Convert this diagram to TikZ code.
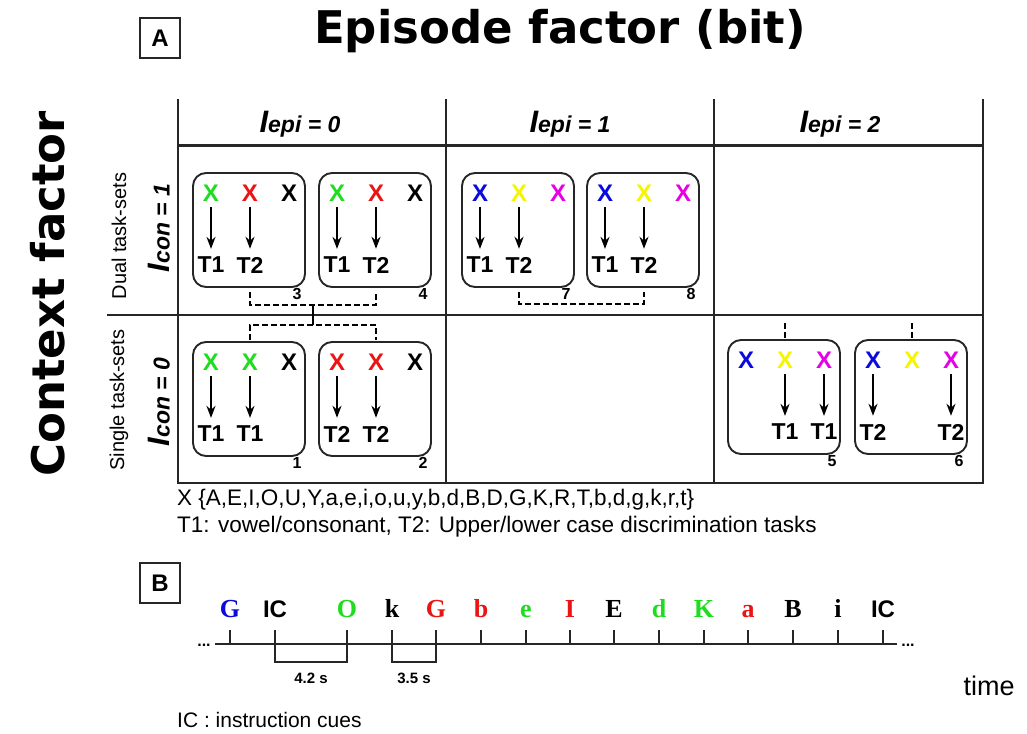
\documentclass[tikz,border=0pt]{standalone}
\usepackage{fontspec}
\setmainfont{Liberation Sans}
\newfontfamily\dejavu{DejaVu Sans}
\newfontfamily\lserif{Liberation Serif}
\usetikzlibrary{arrows.meta}
\definecolor{xgreen}{RGB}{30,220,30}
\definecolor{xred}{RGB}{235,20,20}
\definecolor{xblue}{RGB}{10,10,220}
\definecolor{xyellow}{RGB}{245,245,0}
\definecolor{xmag}{RGB}{230,0,230}
\newcommand\fac[2]{{\bfseries\itshape\fontsize{31}{31}\selectfont I\fontsize{23}{23}\selectfont #1 = #2}}
\newcommand\taskbox[7]{%
  \node[cbox] (#1) at (#2,#3) {};
  \node[xl,text=#4] (#1a) at (#2-38,#3-37) {X};
  \node[xl,text=#5] (#1b) at (#2+1,#3-37) {X};
  \node[xl,text=#6] (#1c) at (#2+40,#3-37) {X};
  \node[num] (#1n) at (#2+48,#3+64) {#7};
}
\newcommand\task[3]{%
  \path (#1#2) ++(0,72) node[tl] (#1t#2) {#3};
  \draw[arr] (#1#2) -- (#1t#2);
}
\tikzset{
  tline/.style={line width=2pt, draw=black!85},
  cbox/.style={draw=black!85, line width=1.9pt, rounded corners=13pt, minimum width=112pt, minimum height=114pt, inner sep=0pt},
  xl/.style={font=\bfseries\fontsize{24}{24}\selectfont, inner sep=0pt},
  tl/.style={font=\bfseries\fontsize{23}{23}\selectfont, inner sep=0pt},
  num/.style={font=\bfseries\fontsize{16}{16}\selectfont, inner sep=0pt},
  arr/.style={-{Stealth[length=12pt,width=9pt]}, line width=1.8pt, shorten <=6pt, shorten >=8pt},
  brk/.style={line width=1.4pt, dash pattern=on 6pt off 3pt},
  panel/.style={draw=black!85, line width=1.5pt, minimum width=40pt, minimum height=40pt, inner sep=0pt, font=\bfseries\fontsize{24}{24}\selectfont},
  ser/.style={font=\lserif\bfseries\fontsize{26}{26}\selectfont, inner sep=0pt, anchor=base},
  ics/.style={font=\bfseries\fontsize{24}{24}\selectfont, inner sep=0pt, anchor=base},
}
\begin{document}
\begin{tikzpicture}[x=1pt,y=-1pt]
\useasboundingbox (0,0) rectangle (1027,733);
% titles
\node[font=\dejavu\bfseries\fontsize{45}{45}\selectfont] (title) at (560,31) {Episode factor (bit)};
\node[rotate=90, font=\dejavu\bfseries\fontsize{45}{45}\selectfont] (ctx) at (48,294) {Context factor};
\node[panel] (pA) at (160,38) {A};
% table
\draw[tline] (178,99) -- (178,483) -- (983,483) -- (983,99);
\draw[tline] (446,99) -- (446,483);
\draw[tline] (714,99) -- (714,483);
\draw[tline, line width=3pt] (178,145) -- (983,145);
\draw[tline] (107,315) -- (983,315);
\node (h0) at (300,124) {\fac{epi}{0}};
\node (h1) at (570,124) {\fac{epi}{1}};
\node (h2) at (840,124) {\fac{epi}{2}};
\node[rotate=90, font=\fontsize{20}{20}\selectfont] (dual) at (119,236) {Dual task-sets};
\node[rotate=90] (icon1) at (159,228) {\fac{con}{1}};
\node[rotate=90, font=\fontsize{20}{20}\selectfont] (single) at (119,400) {Single task-sets};
\node[rotate=90] (icon0) at (159,402) {\fac{con}{0}};
% row 1, col 1
\taskbox{b3}{249}{230}{xgreen}{xred}{black}{3}
\task{b3}{a}{T1}\task{b3}{b}{T2}
\taskbox{b4}{375}{230}{xgreen}{xred}{black}{4}
\task{b4}{a}{T1}\task{b4}{b}{T2}
% row 1, col 2
\taskbox{b7}{518}{230}{xblue}{xyellow}{xmag}{7}
\task{b7}{a}{T1}\task{b7}{b}{T2}
\taskbox{b8}{643}{230}{xblue}{xyellow}{xmag}{8}
\task{b8}{a}{T1}\task{b8}{b}{T2}
% row 2, col 1
\taskbox{b1}{249}{399}{xgreen}{xgreen}{black}{1}
\task{b1}{a}{T1}\task{b1}{b}{T1}
\taskbox{b2}{375}{399}{xred}{xred}{black}{2}
\task{b2}{a}{T2}\task{b2}{b}{T2}
% row 2, col 3
\taskbox{b5}{784}{397}{xblue}{xyellow}{xmag}{5}
\task{b5}{b}{T1}\task{b5}{c}{T1}
\taskbox{b6}{911}{397}{xblue}{xyellow}{xmag}{6}
\task{b6}{a}{T2}\task{b6}{c}{T2}
% brackets
\draw[brk] (b3b |- 0,292) -- (b3b |- 0,305) -- (b4b |- 0,305) -- (b4b |- 0,292);
\coordinate (mid) at (313,305);
\draw[line width=1.4pt] (mid) -- ++(0,20);
\draw[brk] (b1b |- 0,340) -- (b1b |- 0,325) -- (b2b |- 0,325) -- (b2b |- 0,340);
\draw[brk] (b7b |- 0,292) -- (b7b |- 0,304) -- (b8b |- 0,304) -- (b8b |- 0,292);
\draw[brk] (b5b |- 0,323) -- (b5b |- 0,338);
\draw[brk] (b6b |- 0,323) -- (b6b |- 0,338);
% legend
\node[anchor=west, inner sep=0pt, font=\fontsize{22.5}{22.5}\selectfont] (xset) at (177,500) {X \{A,E,I,O,U,Y,a,e,i,o,u,y,b,d,B,D,G,K,R,T,b,d,g,k,r,t\}};
\node[anchor=west, inner sep=0pt, font=\fontsize{22.5}{22.5}\selectfont] (tdesc) at (177,527) {T1: vowel/consonant, T2: Upper/lower case discrimination tasks};
% part B
\node[panel] (pB) at (160,583) {B};
\coordinate (tlL) at (215,644);
\coordinate (tlR) at (897,644);
\draw[line width=1.5pt, draw=black!85] (tlL) -- (tlR);
\node[anchor=base, inner sep=0pt, font=\bfseries\fontsize{16}{16}\selectfont] (dotsL) at (204,646) {...};
\node[anchor=base, inner sep=0pt, font=\bfseries\fontsize{16}{16}\selectfont] (dotsR) at (908,646) {...};
\foreach \x/\t/\c/\s [count=\i] in {230/G/xblue/ser, 275/IC/black/ics, 347/O/xgreen/ser, 392/k/black/ser, 436/G/xred/ser, 481/b/xred/ser, 526/e/xgreen/ser, 570/I/xred/ser, 614/E/black/ser, 659/d/xgreen/ser, 704/K/xgreen/ser, 748/a/xred/ser, 793/B/black/ser, 838/i/black/ser, 883/IC/black/ics}{
  \node[\s, text=\c] (L\i) at (\x,617) {\t};
  \coordinate (tk\i) at (\x,644);
  \draw[line width=1.5pt, draw=black!85] (tk\i) -- ++(0,-14);
}
\draw[line width=1.5pt, draw=black!85] (tk2) -- ++(0,18) -| (tk3);
\draw[line width=1.5pt, draw=black!85] (tk4) -- ++(0,18) -| (tk5);
\node[font=\bfseries\fontsize{15}{15}\selectfont] (d42) at (311,678) {4.2 s};
\node[font=\bfseries\fontsize{15}{15}\selectfont] (d35) at (414,678) {3.5 s};
\node[font=\fontsize{27}{27}\selectfont] (time) at (989,686) {time};
\node[anchor=west, inner sep=0pt, font=\fontsize{21}{21}\selectfont] (icnote) at (177,720) {IC : instruction cues};
\end{tikzpicture}
\end{document}
